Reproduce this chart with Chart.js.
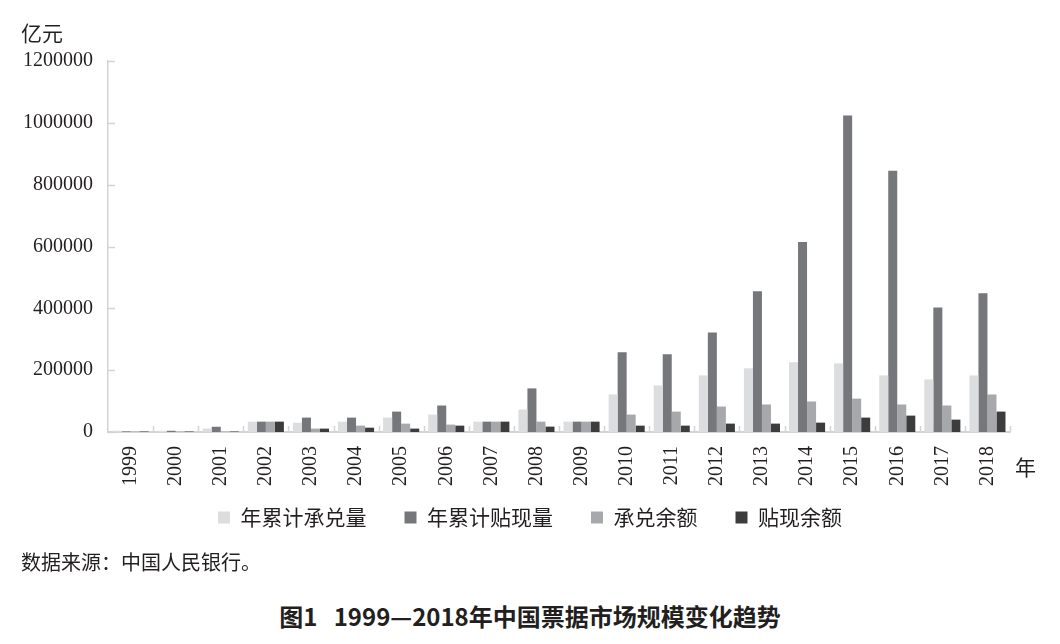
<!DOCTYPE html>
<html>
<head>
<meta charset="utf-8">
<script src="https://cdn.jsdelivr.net/npm/chart.js@4"></script>
<style>
	body { margin: 0; background: #fff; }
	#wrap { position: relative; width: 1060px; height: 644px; }
	#box { position: absolute; left: 0; top: 0; width: 1060px; height: 557px; }
	.txt { position: absolute; color: #231f20; font-family: "Noto Sans CJK SC", sans-serif; white-space: nowrap; }
</style>
</head>
<body>
<div id="wrap">
	<div id="box"><canvas id="myChart"></canvas></div>
	<div class="txt" style="left:21px; top:17px; font-size:21px;">亿元</div>
	<div class="txt" style="left:21px; top:547px; font-size:20px;">数据来源：中国人民银行。</div>
	<div class="txt" style="left:0; width:1060px; text-align:center; top:598px; font-size:24px; font-weight:bold;">图1&nbsp;&nbsp;&nbsp;1999—2018年中国票据市场规模变化趋势</div>
</div>
<script>
var years = ['1999', '2000', '2001', '2002', '2003', '2004', '2005', '2006', '2007', '2008',
	'2009', '2010', '2011', '2012', '2013', '2014', '2015', '2016', '2017', '2018'];
var yTicks = [0, 200000, 400000, 600000, 800000, 1000000, 1200000];

// 亿元
var acceptVol = [4000, 4000, 11000, 33500, 30000, 33500, 46600, 56400, 33500, 72600,
	33500, 121400, 150700, 183000, 206000, 225500, 222000, 183000, 170000, 183000];
var discountVol = [2000, 4000, 17000, 33500, 46600, 46600, 66000, 85700, 33500, 141000,
	33500, 258000, 251500, 322000, 455000, 614600, 1024000, 845000, 403000, 449000];
var acceptBal = [1500, 1500, 1500, 33500, 11000, 20600, 27000, 23900, 33500, 33500,
	33500, 56400, 66000, 82400, 89000, 98700, 108000, 89000, 85700, 121400];
var discountBal = [1500, 1500, 1500, 33500, 11000, 14000, 11000, 20600, 33500, 17400,
	33500, 20600, 20600, 27100, 27100, 30300, 46600, 53000, 40000, 66000];

var axisColor = '#d3d4d6';

// short tick marks pointing into the plot, like the original
var innerTicks = {
	id: 'innerTicks',
	afterLayout: function (chart) {
		// move the legend up and a little right, the wide item spacing pushes it around
		var lg = chart.legend;
		var h = lg.bottom - lg.top;
		lg.top = 469;
		lg.bottom = 469 + h;
		lg.left += 25;
		lg.right += 25;
	},
	afterDraw: function (chart) {
		var c = chart.ctx;
		var x = chart.scales.x, y = chart.scales.y;
		c.save();
		c.strokeStyle = axisColor;
		c.lineWidth = 1.5;
		c.beginPath();
		yTicks.forEach(function (v) {
			var py = Math.round(y.getPixelForValue(v)) + 0.5;
			c.moveTo(x.left, py);
			c.lineTo(x.left + 7, py);
		});
		for (var i = 1; i <= years.length; i++) {
			var px = i < years.length
				? (x.getPixelForValue(i - 1) + x.getPixelForValue(i)) / 2
				: x.right;
			px = Math.round(px) + 0.5;
			c.moveTo(px, y.bottom);
			c.lineTo(px, y.bottom - 6);
		}
		c.stroke();
		c.fillStyle = '#231f20';
		c.font = '21px "Noto Sans CJK SC"';
		c.textBaseline = 'middle';
		c.fillText('年', x.right + 5, y.bottom + 35);
		c.restore();
	}
};

var ctx = document.getElementById('myChart').getContext('2d');
var myChart = new Chart(ctx, {
	type: 'bar',
	data: {
		labels: years,
		datasets: [{
			label: '年累计承兑量',
			data: acceptVol,
			backgroundColor: '#dcdddf'
		}, {
			label: '年累计贴现量',
			data: discountVol,
			backgroundColor: '#76777b'
		}, {
			label: '承兑余额',
			data: acceptBal,
			backgroundColor: '#a7a8ab'
		}, {
			label: '贴现余额',
			data: discountBal,
			backgroundColor: '#3c3c3c'
		}]
	},
	options: {
		responsive: true,
		maintainAspectRatio: false,
		animation: false,
		layout: { padding: { top: 61, right: 50, left: 0, bottom: 0 } },
		datasets: { bar: { categoryPercentage: 0.8, barPercentage: 1.0, borderWidth: 0 } },
		plugins: {
			tooltip: { enabled: false },
			legend: {
				position: 'bottom',
				labels: {
					boxWidth: 12,
					boxHeight: 12,
					padding: 38,
					color: '#231f20',
					font: { family: '"Noto Sans CJK SC"', size: 21 }
				}
			}
		},
		scales: {
			x: {
				grid: { display: false, drawTicks: false },
				border: { color: axisColor, width: 2 },
				ticks: {
					minRotation: 90,
					maxRotation: 90,
					padding: 14,
					color: '#231f20',
					font: { family: '"Liberation Serif"', size: 20 }
				},
				afterFit: function (scale) { scale.height = 56; }
			},
			y: {
				min: 0,
				max: 1200000,
				grid: { display: false, drawTicks: false },
				border: { color: axisColor, width: 1.5 },
				ticks: {
					stepSize: 200000,
					padding: 15,
					color: '#231f20',
					font: { family: '"Liberation Serif"', size: 20 },
					callback: function (v) { return String(v); }
				},
				afterFit: function (scale) { scale.width = 108; }
			}
		}
	},
	plugins: [innerTicks]
});
</script>
</body>
</html>
